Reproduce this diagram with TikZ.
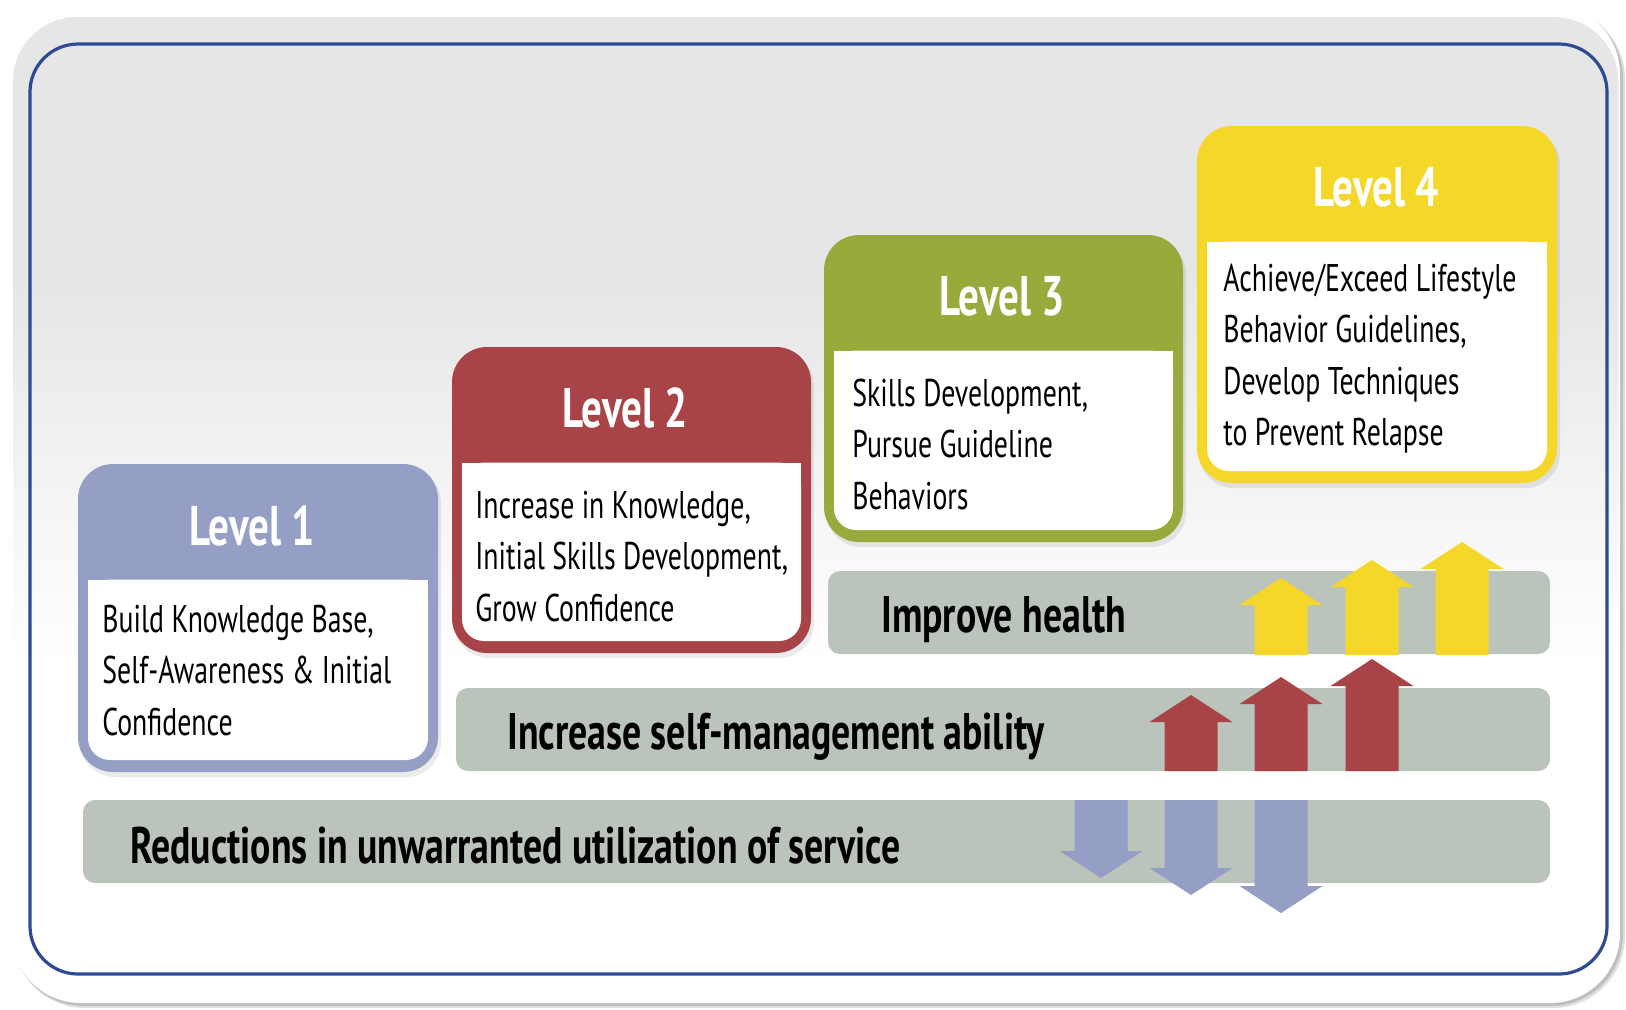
\documentclass[tikz,border=0pt]{standalone}
\usepackage{fontspec}
\setmainfont{PT Sans}
\newfontfamily\condfont{PT Sans}[FakeStretch=0.72]
\newfontfamily\condboldfont{PT Sans}[FakeStretch=0.735]
\definecolor{lvlone}{RGB}{149,158,196}
\definecolor{lvltwo}{RGB}{168,68,71}
\definecolor{lvlthree}{RGB}{151,171,60}
\definecolor{lvlfour}{RGB}{245,215,42}
\definecolor{bandgray}{RGB}{186,196,187}
\definecolor{frameblue}{RGB}{46,74,148}
\definecolor{bggray}{RGB}{230,230,230}
\tikzset{
  titletext/.style={anchor=base, inner sep=0pt, text=white, font=\condboldfont\bfseries\fontsize{27.9pt}{30pt}\selectfont},
  bodytext/.style={anchor=base west, inner sep=0pt, text=black, font=\condfont\fontsize{19.3pt}{25.75pt}\selectfont},
  bandtext/.style={anchor=base west, inner sep=0pt, text=black, font=\condboldfont\bfseries\fontsize{25.7pt}{28pt}\selectfont},
  bandfill/.style={fill=bandgray, rounded corners=6pt},
}
\newcommand\myuparrow[4]{%
  \fill[#1] (#2-26.5,#4) -- (#2-26.5,#3+27) -- (#2-41.5,#3+27) -- (#2,#3) -- (#2+41.5,#3+27) -- (#2+26.5,#3+27) -- (#2+26.5,#4) -- cycle;}
\newcommand\mydownarrow[4]{%
  \fill[#1] (#2-26.5,#3) -- (#2-26.5,#4-27) -- (#2-41.5,#4-27) -- (#2,#4) -- (#2+41.5,#4-27) -- (#2+26.5,#4-27) -- (#2+26.5,#3) -- cycle;}
\newcommand\mylevelbox[5]{%
  \fill[black, opacity=0.08, rounded corners=17.5pt] (#2+2,#3+4) rectangle (#4+3,#5+5);
  \fill[#1, rounded corners=17.5pt] (#2,#3) rectangle (#4,#5);
  \fill[white, rounded corners=11pt] (#2+10,#3+115.5) rectangle (#4-10,#5-12);
  \fill[white] (#2+10,#3+115.5) rectangle (#4-10,#3+170);}
\begin{document}
\begin{tikzpicture}[x=0.5pt,y=-0.5pt]
\useasboundingbox (0,0) rectangle (1626,1009);
\fill[white] (0,0) rectangle (1626,1009);
% outer frame with shadow
\fill[black!12, rounded corners=36pt] (13,7) rectangle (1625,1008);
\fill[black!25, rounded corners=36pt] (12,6) rectangle (1623,1006);
\fill[white, rounded corners=35pt] (11,4) rectangle (1620,1003);
\begin{scope}
  \clip[rounded corners=32pt] (13,17) rectangle (1618,1000);
  \fill[bggray] (0,0) rectangle (1626,281);
  \shade[top color=bggray, bottom color=white] (0,280) rectangle (1626,660);
  \fill[white] (0,659) rectangle (1626,1009);
\end{scope}
\draw[frameblue, line width=1.6pt, rounded corners=24pt] (30,44) rectangle (1607,974);
% level boxes
\mylevelbox{lvlone}{78}{464}{438}{772}
\mylevelbox{lvltwo}{452}{347}{811}{653}
\mylevelbox{lvlthree}{824}{235}{1183}{542}
\mylevelbox{lvlfour}{1197}{126}{1557}{483}
\node[titletext] (t1) at (252,545) {Level 1};
\node[titletext] (t2) at (625,427) {Level 2};
\node[titletext] (t3) at (1002,315) {Level 3};
\node[titletext] (t4) at (1376,206) {Level 4};
\node[bodytext] (d1) at (102,632) {\parbox[t]{200pt}{\raggedright Build Knowledge Base,\\Self-Awareness \& Initial\\Confidence}};
\node[bodytext] (d2) at (475,518) {\parbox[t]{200pt}{\raggedright Increase in Knowledge,\\Initial Skills Development,\\Grow Confidence}};
\node[bodytext] (d3) at (852,406) {\parbox[t]{200pt}{\raggedright Skills Development,\\Pursue Guideline\\Behaviors}};
\node[bodytext] (d4) at (1223,291) {\parbox[t]{200pt}{\raggedright Achieve/Exceed Lifestyle\\Behavior Guidelines,\\Develop Techniques\\to Prevent Relapse}};
% bands
\fill[bandfill] (828,571) rectangle (1550,654);
\fill[bandfill] (456,688) rectangle (1550,771);
\fill[bandfill] (83,800) rectangle (1550,883);
\node[bandtext] (g1) at (881,632) {Improve health};
\node[bandtext] (g2) at (507,749) {Increase self-management ability};
\node[bandtext] (g3) at (130,863) {Reductions in unwarranted utilization of service};
% arrows
\myuparrow{lvlfour}{1281}{578}{655}
\myuparrow{lvlfour}{1372}{560}{655}
\myuparrow{lvlfour}{1462}{542}{655}
\myuparrow{lvltwo}{1191}{695}{771}
\myuparrow{lvltwo}{1281}{677}{771}
\myuparrow{lvltwo}{1372}{659}{771}
\mydownarrow{lvlone}{1101}{800}{878}
\mydownarrow{lvlone}{1191}{800}{895}
\mydownarrow{lvlone}{1281}{800}{913}
\end{tikzpicture}
\end{document}
